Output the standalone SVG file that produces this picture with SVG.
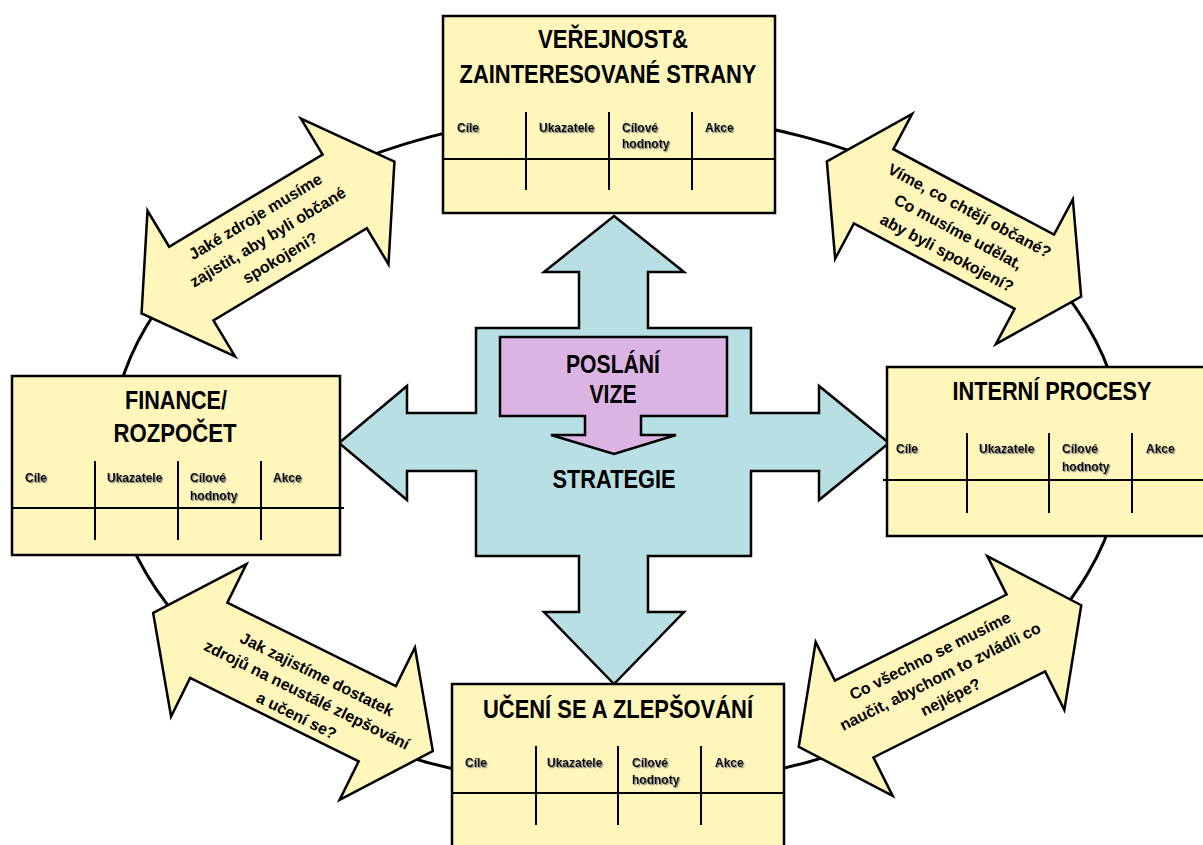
<svg xmlns="http://www.w3.org/2000/svg" width="1203" height="845" viewBox="0 0 1203 845">
  <defs>
    <style>
      .card { fill: #FFF6BC; stroke: #000; stroke-width: 2.5; }
      .grid { stroke: #000; stroke-width: 2; fill: none; }
      .title { font-family: "Liberation Sans Narrow", "Arial Narrow", "Liberation Sans", Arial, sans-serif; font-weight: bold; font-size: 26px; fill: #000; text-anchor: middle; }
      .head { font-family: "Liberation Sans", Arial, sans-serif; font-weight: bold; font-size: 12px; fill: #000; filter: url(#shade); }
      .link { fill: #FFF6BC; stroke: #000; stroke-width: 2.5; stroke-linejoin: miter; }
      .q { font-family: "Liberation Sans", Arial, sans-serif; font-weight: bold; font-size: 16px; fill: #000; text-anchor: middle; }
      .ring { fill: none; stroke: #000; stroke-width: 3; }
    </style>
    <filter id="shade" x="-20%" y="-30%" width="140%" height="160%">
      <feDropShadow dx="1.2" dy="1.2" stdDeviation="0.6" flood-color="#7a7a7a" flood-opacity="0.9"/>
    </filter>
  </defs>

  <rect width="1203" height="845" fill="#fff"/>

  <!-- connectors: the cycle ring and the four two-way question arrows -->
  <g id="connectors">
    <ellipse class="ring" cx="617" cy="450" rx="506" ry="337"/>

    <g id="link-finance-public" transform="translate(268,237.5) rotate(-31)">
      <polygon class="link" points="147.5,0 89.5,-85 89.5,-43 -89.5,-43 -89.5,-85 -147.5,0 -89.5,85 -89.5,43 89.5,43 89.5,85"/>
      <text class="q" x="0" y="-19">Jaké zdroje musíme</text>
      <text class="q" x="0" y="5">zajistit, aby byli občané</text>
      <text class="q" x="0" y="29">spokojeni?</text>
    </g>

    <g id="link-public-process" transform="translate(954,229) rotate(28)">
      <polygon class="link" points="144,0 91,-82 91,-42 -91,-42 -91,-82 -144,0 -91,82 -91,42 91,42 91,82"/>
      <text class="q" x="5" y="-18">Víme, co chtějí občané?</text>
      <text class="q" x="5" y="6">Co musíme udělat,</text>
      <text class="q" x="5" y="30">aby byli spokojení?</text>
    </g>

    <g id="link-finance-learning" transform="translate(293,682) rotate(26.3)">
      <polygon class="link" points="156,0 94,-85 94,-42 -94,-42 -94,-85 -156,0 -94,85 -94,42 94,42 94,85"/>
      <text class="q" x="18" y="-12">Jak zajistíme dostatek</text>
      <text class="q" x="18" y="11">zdrojů na neustálé zlepšování</text>
      <text class="q" x="18" y="34">a učení se?</text>
    </g>

    <g id="link-learning-process" transform="translate(940,676) rotate(-26.6)">
      <polygon class="link" points="158,0 96,-86 96,-43 -96,-43 -96,-86 -158,0 -96,86 -96,43 96,43 96,86"/>
      <text class="q" x="0" y="-17" font-size="15">Co všechno se musíme</text>
      <text class="q" x="0" y="6" font-size="15">naučit, abychom to zvládli co</text>
      <text class="q" x="0" y="29" font-size="15">nejlépe?</text>
    </g>
  </g>

  <!-- central strategy cross -->
  <g id="strategy">
    <polygon fill="#B8DFE3" stroke="#000" stroke-width="2.5" stroke-linejoin="miter"
      points="614,216 684,272 648,272 648,328 751,328 751,413 819,413 819,386 889,443 819,500 819,471 751,471 751,556 648,556 648,612 684,612 614,684 544,612 579,612 579,556 476,556 476,471 407,471 407,500 339,443 407,386 407,413 476,413 476,328 579,328 579,272 544,272"/>
    <text class="title" x="614" y="488" textLength="123" lengthAdjust="spacingAndGlyphs">STRATEGIE</text>
  </g>

  <g id="mission">
    <polygon fill="#DCB4E4" stroke="#000" stroke-width="2.5"
      points="500,337 727,337 727,416 641,416 641,435 676,435 614,454 551,435 585,435 585,416 500,416"/>
    <text class="title" x="613" y="373" textLength="94" lengthAdjust="spacingAndGlyphs">POSLÁNÍ</text>
    <text class="title" x="613" y="403" textLength="47" lengthAdjust="spacingAndGlyphs">VIZE</text>
  </g>

  <!-- perspective cards -->
  <g id="public">
    <rect class="card" x="443" y="16" width="332" height="197"/>
    <text class="title" x="613" y="48" font-size="27" textLength="150" lengthAdjust="spacingAndGlyphs">VEŘEJNOST&amp;</text>
    <text class="title" x="608" y="83" font-size="27" textLength="297" lengthAdjust="spacingAndGlyphs">ZAINTERESOVANÉ STRANY</text>
    <path class="grid" d="M443 159H775M526 112V190M609 112V190M692 112V190"/>
    <text class="head" x="457" y="132">Cíle</text>
    <text class="head" x="539" y="132">Ukazatele</text>
    <text class="head" x="622" y="132">Cílové</text>
    <text class="head" x="622" y="148">hodnoty</text>
    <text class="head" x="705" y="132">Akce</text>
  </g>

  <g id="finance">
    <rect class="card" x="12" y="376" width="328" height="179"/>
    <text class="title" x="176" y="409" textLength="102" lengthAdjust="spacingAndGlyphs">FINANCE/</text>
    <text class="title" x="175" y="442" textLength="123" lengthAdjust="spacingAndGlyphs">ROZPOČET</text>
    <path class="grid" d="M12 508H344M95 461V540M178 461V540M261 461V540"/>
    <text class="head" x="25" y="482">Cíle</text>
    <text class="head" x="107" y="482">Ukazatele</text>
    <text class="head" x="190" y="482">Cílové</text>
    <text class="head" x="190" y="500">hodnoty</text>
    <text class="head" x="273" y="482">Akce</text>
  </g>

  <g id="process">
    <rect class="card" x="887" y="367" width="330" height="169"/>
    <text class="title" x="1052" y="400" textLength="199" lengthAdjust="spacingAndGlyphs">INTERNÍ PROCESY</text>
    <path class="grid" d="M883 480H1210M967 433V513M1049 433V513M1132 433V513"/>
    <text class="head" x="896" y="453">Cíle</text>
    <text class="head" x="979" y="453">Ukazatele</text>
    <text class="head" x="1062" y="453">Cílové</text>
    <text class="head" x="1062" y="471">hodnoty</text>
    <text class="head" x="1146" y="453">Akce</text>
  </g>

  <g id="learning">
    <rect class="card" x="452" y="684" width="332" height="180"/>
    <text class="title" x="618" y="718" textLength="270" lengthAdjust="spacingAndGlyphs">UČENÍ SE A ZLEPŠOVÁNÍ</text>
    <path class="grid" d="M452 793H784M536 746V825M618 746V825M701 746V825"/>
    <text class="head" x="465" y="767">Cíle</text>
    <text class="head" x="547" y="767">Ukazatele</text>
    <text class="head" x="632" y="767">Cílové</text>
    <text class="head" x="632" y="784">hodnoty</text>
    <text class="head" x="715" y="767">Akce</text>
  </g>
</svg>
